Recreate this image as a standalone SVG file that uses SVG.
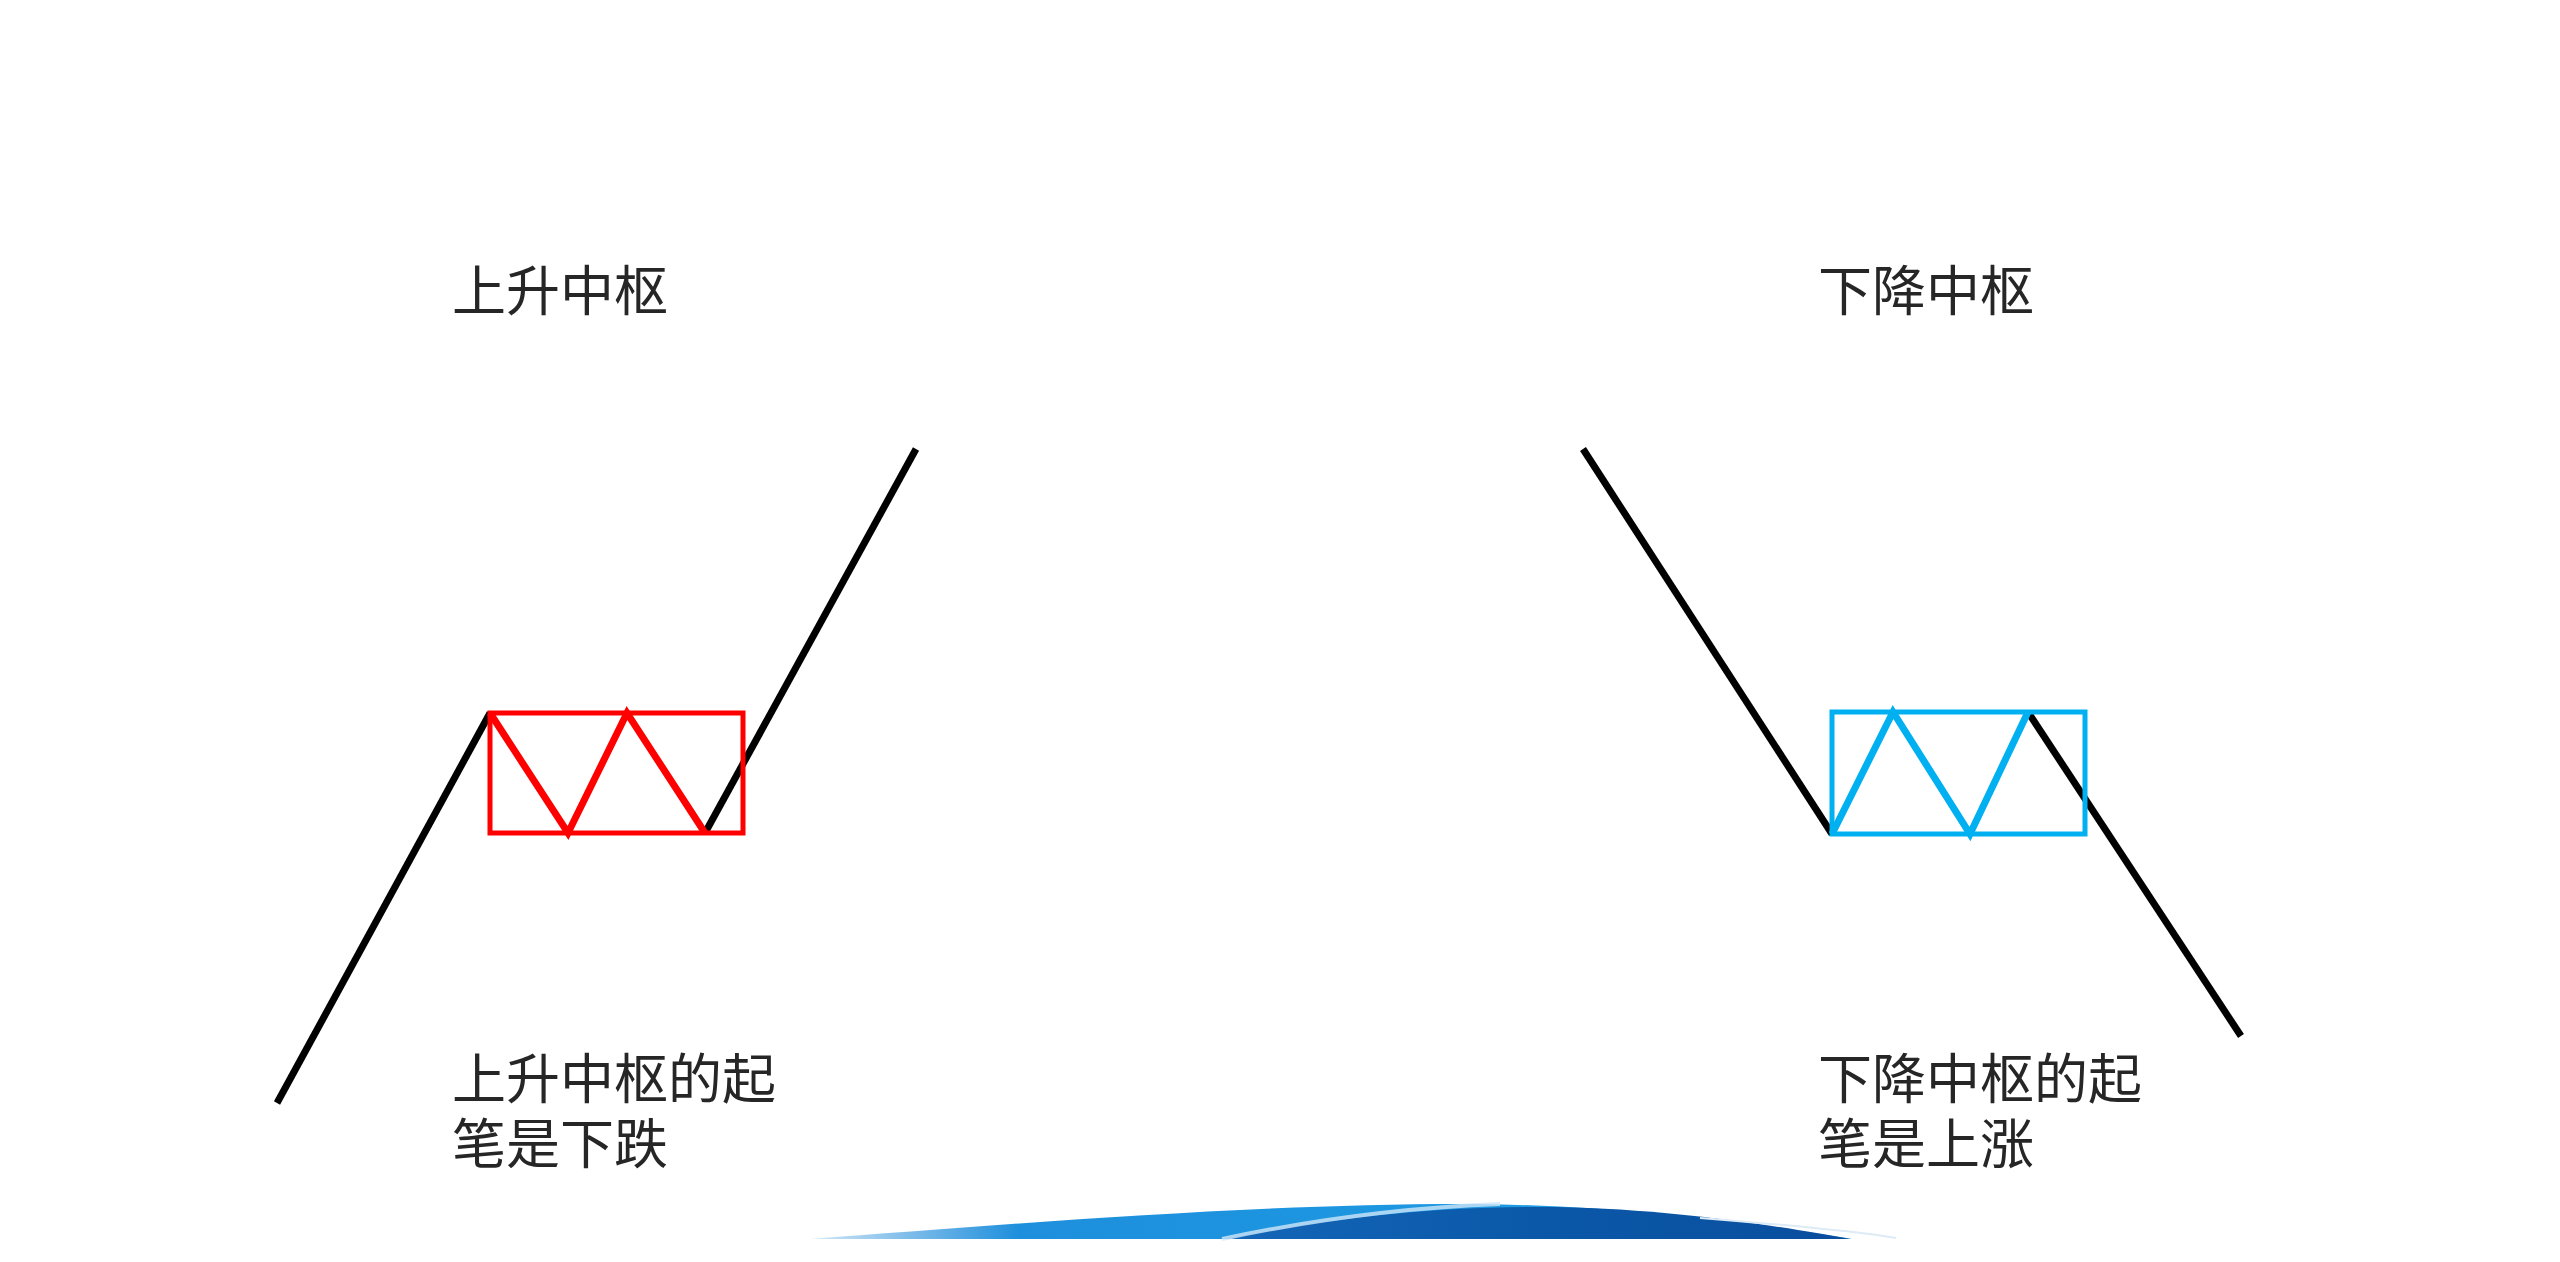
<svg xmlns="http://www.w3.org/2000/svg" width="2560" height="1262" viewBox="0 0 2560 1262">
<defs>
<style>
.lbl{font-family:"Noto Sans CJK SC","Liberation Sans",sans-serif;font-size:54px;fill:#262626}
.blk{stroke:#000;stroke-width:7;fill:none;stroke-linecap:butt}
.red{stroke:#FF0000;fill:none}
.cyan{stroke:#00B0F0;fill:none}
</style>
<linearGradient id="lb" x1="0" y1="0" x2="1" y2="0">
<stop offset="0" stop-color="#1E88D8" stop-opacity="0.2"/>
<stop offset="0.2" stop-color="#1E8FDC"/>
<stop offset="1" stop-color="#1BA0E6"/>
</linearGradient>
<linearGradient id="db" x1="0" y1="0" x2="1" y2="0">
<stop offset="0" stop-color="#1466B8"/>
<stop offset="0.5" stop-color="#0B58A8"/>
<stop offset="1" stop-color="#0A4E9E"/>
</linearGradient>
</defs>
<rect width="2560" height="1262" fill="#fff"/>
<g id="left-title"><text class="lbl" x="452" y="311">上升中枢</text></g>
<g id="right-title"><text class="lbl" x="1818" y="311">下降中枢</text></g>
<g id="left-note"><text class="lbl" x="452" y="1099">上升中枢的起</text><text class="lbl" x="452" y="1164">笔是下跌</text></g>
<g id="right-note"><text class="lbl" x="1818" y="1099">下降中枢的起</text><text class="lbl" x="1818" y="1164">笔是上涨</text></g>
<g id="connectors">
<line class="blk" x1="277" y1="1103" x2="490" y2="713"/>
<line class="blk" x1="705" y1="833" x2="916" y2="449"/>
<line class="blk" x1="1583" y1="449" x2="1832" y2="834"/>
<line class="blk" x1="2028" y1="712" x2="2241" y2="1036"/>
</g>
<g id="up-pivot">
<rect class="red" x="490" y="713" width="253" height="120" stroke-width="5"/>
<polyline class="red" points="490,713 568,833 627,713 705,833" stroke-width="7" stroke-linejoin="miter"/>
</g>
<g id="down-pivot">
<rect class="cyan" x="1832" y="712" width="253" height="122" stroke-width="5"/>
<polyline class="cyan" points="1832,834 1893,712 1970,834 2028,712" stroke-width="7"/>
</g>
<g id="swoosh">
<path d="M811,1239 C1000,1225 1250,1204 1460,1204 C1620,1204 1760,1225 1852,1239 Z" fill="url(#lb)"/>
<path d="M1225,1239 C1320,1220 1420,1207 1540,1207 C1660,1207 1780,1226 1850,1239 Z" fill="url(#db)"/>
<path d="M1222,1239 C1320,1218 1420,1207 1500,1204" stroke="#CFE6F7" stroke-width="4" fill="none" opacity="0.8"/>
<path d="M1700,1218 C1800,1226 1860,1232 1896,1238" stroke="#DDEBF6" stroke-width="2" fill="none"/>
</g>
</svg>
